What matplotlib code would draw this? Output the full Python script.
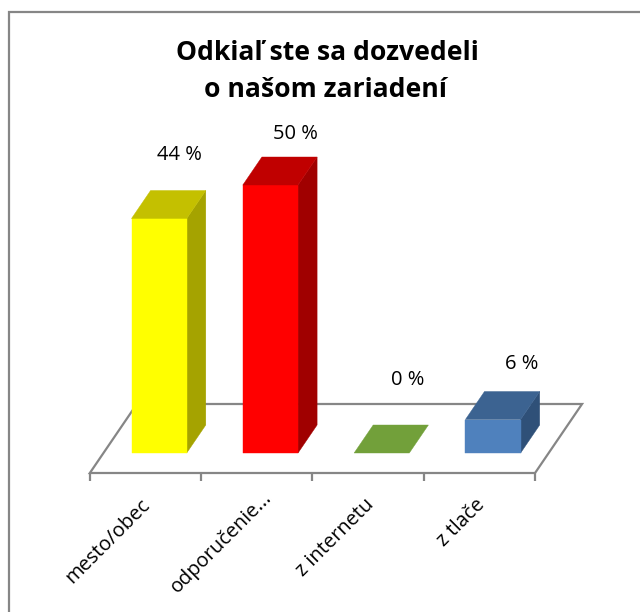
import matplotlib
matplotlib.use("Agg")
import matplotlib.pyplot as plt
from matplotlib.patches import Polygon
from matplotlib.lines import Line2D

categories = ["mesto/obec", "odporučenie...", "z internetu", "z tlače"]
values = [43.75, 50, 0, 6.25]
value_labels = ["44 %", "50 %", "0 %", "6 %"]
front_colors = ["#FFFF00", "#FF0000", "#72A03A", "#4F81BD"]
top_colors = ["#C4C000", "#C00000", "#72A03A", "#3C6391"]
side_colors = ["#A5A300", "#A00000", "#72A03A", "#2F5078"]
title_lines = ["Odkiaľ ste sa dozvedeli", "o našom zariadení"]

W, H = 640, 612
GRAY = "#868686"
PX_X, PX_Y = 111.3, 5.36          # pixels per category / per percent
X0, Y0 = 145.5, 473               # pixel of category 0 / value 0 on the front edge
DX, DY = 47 / PX_X, 69 / PX_Y     # floor depth vector in data units

plt.rcParams["font.family"] = ["Open Sans", "DejaVu Sans"]
fig = plt.figure(figsize=(W / 100, H / 100), dpi=100, facecolor="white")
ax = fig.add_axes([0, 0, 1, 1])
ax.set_xlim(-X0 / PX_X, (W - X0) / PX_X)
ax.set_ylim((Y0 - H) / PX_Y, Y0 / PX_Y)
ax.axis("off")


def proj(x, v, d):
    """Oblique projection: category x, value v, depth d (0 front, 1 back)."""
    return (x + DX * d, v + DY * d)


# chart frame
fig.add_artist(Line2D([8.5 / W, 8.5 / W, 1], [0, 1 - 11.5 / H, 1 - 11.5 / H],
                      color=GRAY, lw=1.6, solid_joinstyle="miter"))

# floor
n = len(categories)
floor = [proj(-0.5, 0, 0), proj(n - 0.5, 0, 0), proj(n - 0.5, 0, 1), proj(-0.5, 0, 1)]
ax.add_patch(Polygon(floor, closed=True, fc="white", ec=GRAY, lw=1.6, zorder=1))

# tick marks on the front edge
for t in range(n + 1):
    ax.plot([t - 0.5, t - 0.5], [0, -8 / PX_Y], color=GRAY, lw=1.6, zorder=1,
            solid_capstyle="butt")

# bars
D0, D1, BW = 20 / 69, 48 / 69, 0.248
label_dx = [20, 25.5, 26, 28.5]
label_dy = [63, 51, 73, 55]
for i, v in enumerate(values):
    l, r = i - BW, i + BW
    edge = {"lw": 0.3, "zorder": 3, "joinstyle": "miter"}
    if v > 0:
        ax.add_patch(Polygon([proj(r, 0, D0), proj(r, 0, D1), proj(r, v, D1), proj(r, v, D0)],
                             fc=side_colors[i], ec=side_colors[i], **edge))
        ax.add_patch(Polygon([proj(l, 0, D0), proj(r, 0, D0), proj(r, v, D0), proj(l, v, D0)],
                             fc=front_colors[i], ec=front_colors[i], **edge))
    ax.add_patch(Polygon([proj(l, v, D0), proj(r, v, D0), proj(r, v, D1), proj(l, v, D1)],
                         fc=top_colors[i], ec=top_colors[i], **edge))
    ax.annotate(value_labels[i], xy=proj(i, v, D0), xytext=(label_dx[i] * 0.72, label_dy[i] * 0.72),
                textcoords="offset points", ha="center", va="center",
                fontsize=14.5, color="black", zorder=4)

# category labels
label_off = [(1, -21), (9, -16), (2, -21), (2, -21)]
for i, c in enumerate(categories):
    ax.annotate(c, xy=(i, 0), xytext=label_off[i], textcoords="offset points",
                rotation=45, rotation_mode="anchor", ha="right", va="center",
                fontsize=14.4, color="black")

fig.text(327 / W, 1 - 53 / H, title_lines[0], ha="center", va="center", fontsize=19.1,
         fontweight="bold", color="black")
fig.text(326 / W, 1 - 90 / H, title_lines[1], ha="center", va="center", fontsize=19.1,
         fontweight="bold", color="black")

fig.savefig("out.png", dpi=100)
